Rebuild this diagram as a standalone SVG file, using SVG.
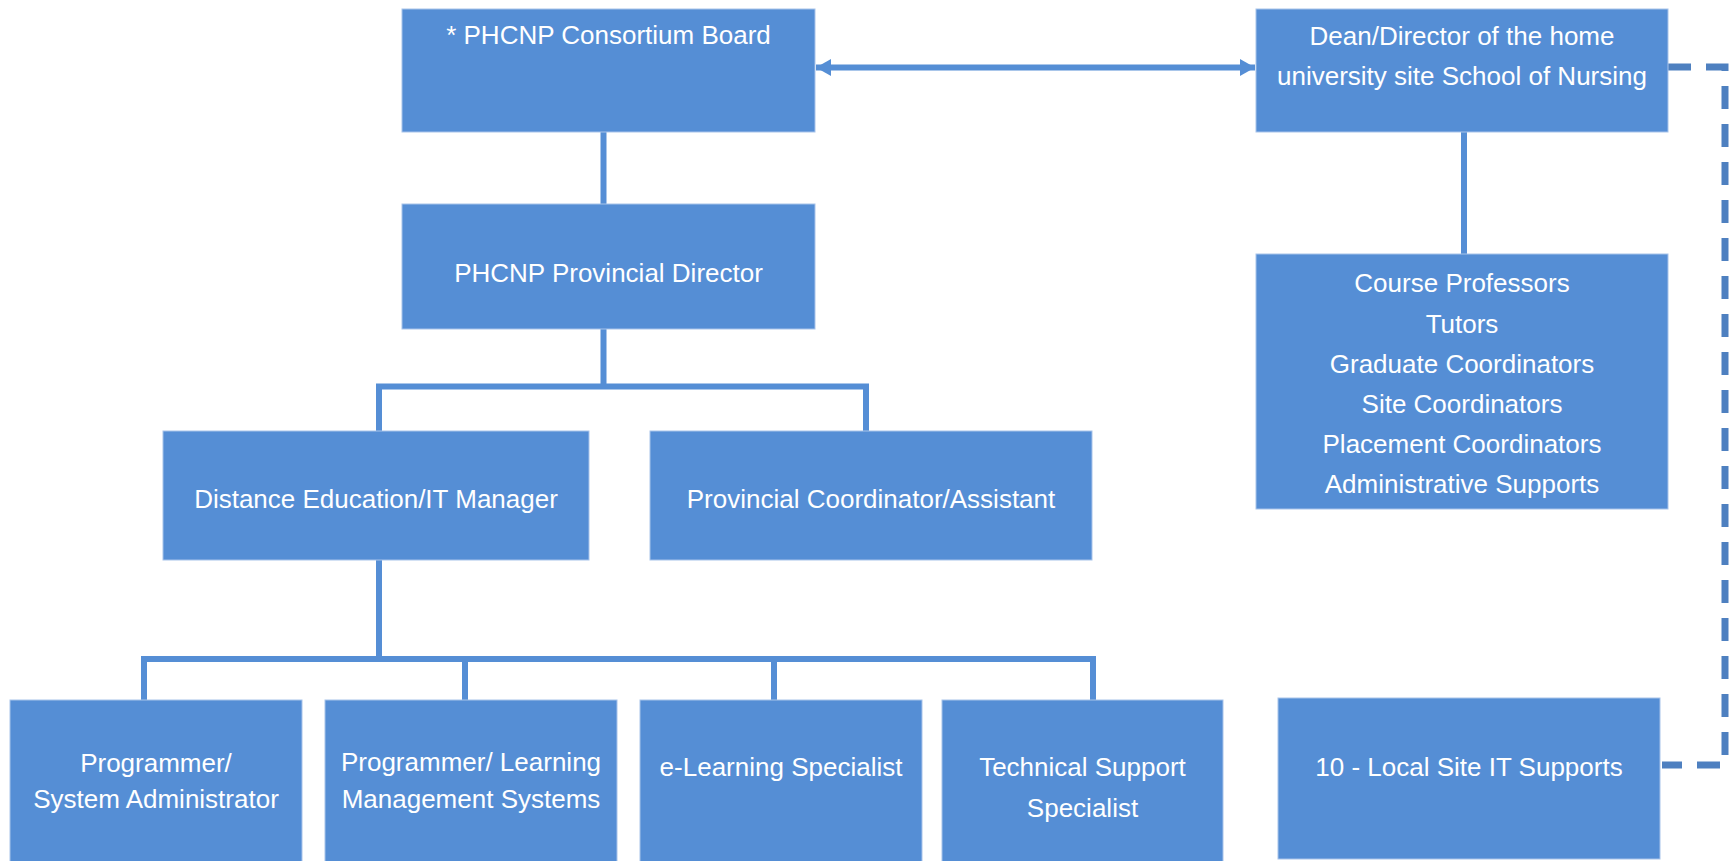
<svg xmlns="http://www.w3.org/2000/svg" width="1731" height="861" viewBox="0 0 1731 861">
<style>
.box{fill:#558ED5;stroke:#A8C3EA;stroke-width:1}
.t{font-family:"Liberation Sans",Arial,sans-serif;font-size:26px;fill:#FFFFFF;text-anchor:middle}
.c{fill:none;stroke:#558ED5;stroke-width:6}
.d{fill:none;stroke:#4E80C0;stroke-width:7;stroke-dasharray:23 15}
</style>
<defs>
<marker id="ah" markerUnits="userSpaceOnUse" markerWidth="16" markerHeight="18" refX="15" refY="9" orient="auto-start-reverse">
<path d="M0,0.5 L15,9 L0,17.5 z" fill="#558ED5"/>
</marker>
</defs>
<rect width="1731" height="861" fill="#FFFFFF"/>
<g id="connectors">
<line class="c" x1="816" y1="67.5" x2="1255" y2="67.5" stroke-width="7" marker-start="url(#ah)" marker-end="url(#ah)"/>
<path class="c" d="M603.5,132 V204"/>
<path class="c" d="M1464,132 V254"/>
<path class="c" d="M603.5,329 V386.5 M379,386.5 H866 M379,383.5 V431 M866,383.5 V431"/>
<path class="c" d="M379,560 V659 M144,659 H1093 M144,656 V700 M465,659 V700 M774,659 V700 M1093,656 V700"/>
<path class="d" d="M1668,67 H1725 V765 H1662"/>
</g>
<g id="board">
<rect class="box" x="402" y="9" width="413" height="123"/>
<text class="t" x="608.5" y="44">* PHCNP Consortium Board</text>
</g>
<g id="dean">
<rect class="box" x="1256" y="9" width="412" height="123"/>
<text class="t" x="1462" y="45">Dean/Director of the home</text>
<text class="t" x="1462" y="85">university site School of Nursing</text>
</g>
<g id="director">
<rect class="box" x="402" y="204" width="413" height="125"/>
<text class="t" x="608.5" y="282">PHCNP Provincial Director</text>
</g>
<g id="staff">
<rect class="box" x="1256" y="254" width="412" height="255"/>
<text class="t" x="1462" y="292">Course Professors</text>
<text class="t" x="1462" y="333">Tutors</text>
<text class="t" x="1462" y="373">Graduate Coordinators</text>
<text class="t" x="1462" y="413">Site Coordinators</text>
<text class="t" x="1462" y="453">Placement Coordinators</text>
<text class="t" x="1462" y="493">Administrative Supports</text>
</g>
<g id="de-manager">
<rect class="box" x="163" y="431" width="426" height="129"/>
<text class="t" x="376" y="508">Distance Education/IT Manager</text>
</g>
<g id="prov-coord">
<rect class="box" x="650" y="431" width="442" height="129"/>
<text class="t" x="871" y="508">Provincial Coordinator/Assistant</text>
</g>
<g id="prog-sysadmin">
<rect class="box" x="10" y="700" width="292" height="165"/>
<text class="t" x="156" y="772">Programmer/</text>
<text class="t" x="156" y="808">System Administrator</text>
</g>
<g id="prog-lms">
<rect class="box" x="325" y="700" width="292" height="165"/>
<text class="t" x="471" y="771">Programmer/ Learning</text>
<text class="t" x="471" y="808">Management Systems</text>
</g>
<g id="elearning">
<rect class="box" x="640" y="700" width="282" height="165"/>
<text class="t" x="781" y="776">e-Learning Specialist</text>
</g>
<g id="tech-support">
<rect class="box" x="942" y="700" width="281" height="165"/>
<text class="t" x="1082.5" y="776">Technical Support</text>
<text class="t" x="1082.5" y="817">Specialist</text>
</g>
<g id="local-it">
<rect class="box" x="1278" y="698" width="382" height="161"/>
<text class="t" x="1469" y="776">10 - Local Site IT Supports</text>
</g>
</svg>
